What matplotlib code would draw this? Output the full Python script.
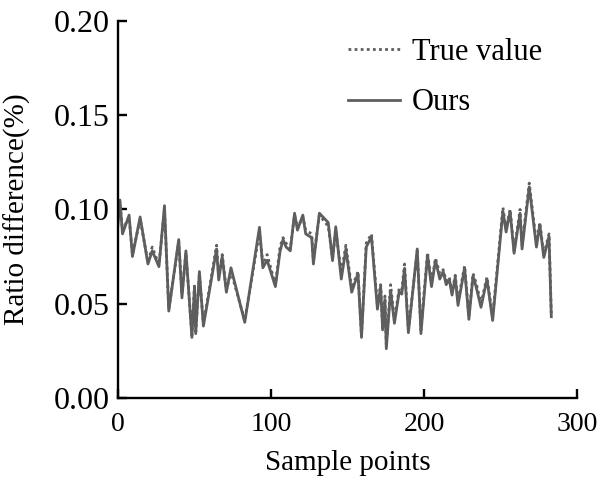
import matplotlib
matplotlib.use("Agg")
import matplotlib.pyplot as plt

# Sample positions and ratio differences (%)
sample_x = [0, 1.5, 3.2, 7.5, 9.7, 14.7, 19.8, 22.6, 27, 30.6, 33.4, 39.9, 42, 44.6,
            48.5, 50.2, 51, 53.4, 56, 64.6, 66, 68.3, 71, 74, 83, 92.6, 94.8, 97.6,
            103, 106, 108, 110, 112.7, 115.5, 117.4, 120.9, 122.8, 126.7, 127.8,
            131.7, 137.5, 140.3, 142.4, 146, 149, 152.8, 156.9, 159.2, 162.3, 165.7,
            169.6, 171.7, 173, 174.5, 175.4, 178.2, 180.7, 183.8, 185.5, 187.3,
            189.8, 195.6, 198, 202.3, 204.9, 207.5, 210.3, 212.5, 214.5, 216.5,
            218.3, 220.4, 222.2, 226.5, 229.3, 232, 234, 237.2, 241.1, 244.8, 251.5,
            253.6, 256.2, 258.8, 262.7, 264, 268.7, 273.4, 275.6, 278.2, 281.6, 283.1]

ours = [0.090, 0.105, 0.087, 0.097, 0.075, 0.096, 0.071, 0.078, 0.0696, 0.102, 0.046,
        0.084, 0.053, 0.078, 0.032, 0.059, 0.034, 0.067, 0.038, 0.079, 0.0625, 0.075,
        0.056, 0.069, 0.040, 0.0905, 0.069, 0.073, 0.059, 0.0775, 0.084, 0.080, 0.078,
        0.098, 0.089, 0.097, 0.087, 0.085, 0.071, 0.098, 0.093, 0.0728, 0.0908, 0.063,
        0.079, 0.056, 0.066, 0.032, 0.080, 0.0855, 0.047, 0.059, 0.036, 0.052, 0.026,
        0.057, 0.0395, 0.0563, 0.055, 0.0687, 0.0345, 0.079, 0.034, 0.0758, 0.059,
        0.073, 0.063, 0.067, 0.060, 0.063, 0.0545, 0.064, 0.049, 0.069, 0.0416, 0.0646,
        0.059, 0.048, 0.063, 0.041, 0.099, 0.088, 0.099, 0.0767, 0.098, 0.079, 0.112,
        0.080, 0.092, 0.0745, 0.0855, 0.043]

true_value = [0.093, 0.104, 0.089, 0.096, 0.076, 0.095, 0.072, 0.080, 0.0706, 0.100,
              0.047, 0.083, 0.055, 0.077, 0.033, 0.060, 0.035, 0.066, 0.039, 0.081,
              0.0640, 0.076, 0.057, 0.067, 0.041, 0.0880, 0.071, 0.076, 0.060, 0.0800,
              0.085, 0.082, 0.079, 0.097, 0.090, 0.096, 0.089, 0.087, 0.073, 0.097,
              0.091, 0.0740, 0.0890, 0.066, 0.081, 0.058, 0.067, 0.033, 0.082, 0.0870,
              0.049, 0.060, 0.037, 0.054, 0.028, 0.060, 0.0410, 0.0580, 0.057, 0.0710,
              0.0360, 0.078, 0.036, 0.0770, 0.061, 0.074, 0.066, 0.068, 0.062, 0.064,
              0.0560, 0.065, 0.051, 0.070, 0.0430, 0.0660, 0.061, 0.050, 0.064, 0.043,
              0.101, 0.090, 0.100, 0.0780, 0.100, 0.081, 0.114, 0.082, 0.093, 0.0760,
              0.0870, 0.044]

x_ticks = [0, 100, 200, 300]
y_ticks = [0.00, 0.05, 0.10, 0.15, 0.20]

plt.rcParams["font.family"] = ["Liberation Serif", "DejaVu Serif"]

fig = plt.figure(figsize=(6.0, 4.82), dpi=100)
ax = fig.add_axes([0.196, 0.175, 0.766, 0.781])

line_color = "#5e5e5e"
ax.plot(sample_x, true_value, linestyle=(0, (1, 1.2)), color=line_color,
        linewidth=2.0, label="True value")
ax.plot(sample_x, ours, linestyle="-", color=line_color, linewidth=2.0,
        label="Ours")

ax.set_xlim(0, 300)
ax.set_ylim(0, 0.20)
ax.set_xticks(x_ticks)
ax.set_yticks(y_ticks)
ax.set_xticklabels([str(v) for v in x_ticks])
ax.set_yticklabels([f"{v:.2f}" for v in y_ticks])

for side in ("top", "right"):
    ax.spines[side].set_visible(False)
for side in ("left", "bottom"):
    ax.spines[side].set_linewidth(1.7)
    ax.spines[side].set_color("black")

ax.tick_params(axis="both", direction="in", length=6.5, width=1.7, colors="black")
ax.tick_params(axis="x", labelsize=20, pad=10)
ax.tick_params(axis="y", labelsize=23, pad=6)

ax.set_xlabel("Sample points", fontsize=21, labelpad=10)
ax.set_ylabel("Ratio difference(%)", fontsize=21, labelpad=16)

leg = fig.legend(loc="upper left", bbox_to_anchor=(0.58, 0.921), frameon=False,
                 fontsize=22, handlelength=1.7, handletextpad=0.38,
                 labelspacing=0.7, borderpad=0, borderaxespad=0)

fig.savefig("out.png", dpi=100)
